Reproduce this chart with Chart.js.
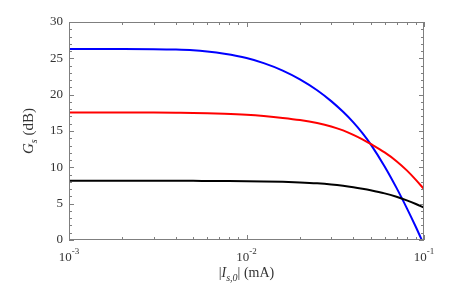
<!DOCTYPE html>
<html>
<head>
<meta charset="utf-8">
<script src="https://cdn.jsdelivr.net/npm/chart.js@4.4.1/dist/chart.umd.min.js"></script>
<style>
  html, body { margin: 0; padding: 0; background: #fff; }
  canvas { display: block; }
</style>
</head>
<body>
<canvas id="gainChart" width="469" height="293"></canvas>
<script>
// bias current |I_s,0| in mA (log axis)
const currents = [0.001, 0.002, 0.003, 0.004, 0.005, 0.006, 0.0075, 0.01, 0.0125, 0.016, 0.02, 0.025, 0.03, 0.035, 0.04, 0.045, 0.05, 0.06, 0.07, 0.08, 0.09, 0.1];
// gain G_s in dB
const gainBlue  = [26.3, 26.29, 26.26, 26.2, 26.1, 25.93, 25.62, 25.04, 24.34, 23.32, 22.11, 20.61, 19.11, 17.64, 16.19, 14.71, 13.2, 10.12, 7.17, 4.39, 1.79, -0.69];
const gainRed   = [17.55, 17.54, 17.53, 17.51, 17.49, 17.45, 17.37, 17.22, 17.05, 16.8, 16.51, 16.1, 15.63, 15.08, 14.47, 13.85, 13.22, 12.05, 10.85, 9.58, 8.28, 7.0];
const gainBlack = [8.15, 8.15, 8.15, 8.14, 8.14, 8.13, 8.12, 8.1, 8.06, 8.0, 7.92, 7.8, 7.65, 7.47, 7.27, 7.06, 6.85, 6.42, 5.95, 5.46, 4.96, 4.45];

const yTicks = [0, 5, 10, 15, 20, 25, 30];
const xTicks = [0.001, 0.01, 0.1];
const xTickExp = ['-3', '-2', '-1'];

const serif = '"Liberation Serif", "Times New Roman", serif';
const textColor = '#333';

function toPoints(ys) {
    return currents.map((x, i) => ({ x: x, y: ys[i] }));
}

function series(ys, color) {
    return {
        data: toPoints(ys),
        borderColor: color,
        backgroundColor: color,
        borderWidth: 2,
        pointRadius: 0,
        showLine: true,
        cubicInterpolationMode: 'monotone',
        fill: false
    };
}

// frame, inward ticks, labels and axis titles
const framePlugin = {
    id: 'frame',
    afterDraw(chart) {
        const ctx = chart.ctx;
        const a = chart.chartArea;
        const xs = chart.scales.x;
        const ys = chart.scales.y;
        ctx.save();
        ctx.strokeStyle = '#7f7f7f';
        ctx.lineWidth = 1;
        ctx.strokeRect(a.left + 0.5, a.top + 0.5, a.right - a.left - 1, a.bottom - a.top - 1);

        ctx.beginPath();
        for (let v = 0; v <= 30; v++) {
            const py = Math.round(ys.getPixelForValue(v)) + 0.5;
            const len = v % 5 === 0 ? 5 : 3;
            ctx.moveTo(a.left, py); ctx.lineTo(a.left + len, py);
            ctx.moveTo(a.right, py); ctx.lineTo(a.right - len, py);
        }
        for (let d = -3; d <= -1; d++) {
            for (let m = 1; m <= 9; m++) {
                const val = m * Math.pow(10, d);
                if (val > 0.1 + 1e-9) break;
                const px = Math.round(xs.getPixelForValue(val)) + 0.5;
                const len = m === 1 ? 5 : 3;
                ctx.moveTo(px, a.bottom); ctx.lineTo(px, a.bottom - len);
                ctx.moveTo(px, a.top); ctx.lineTo(px, a.top + len);
            }
        }
        const lastPx = Math.round(xs.getPixelForValue(0.1)) + 0.5;
        ctx.moveTo(lastPx, a.bottom); ctx.lineTo(lastPx, a.bottom - 5);
        ctx.moveTo(lastPx, a.top); ctx.lineTo(lastPx, a.top + 5);
        ctx.stroke();

        ctx.fillStyle = textColor;
        // y tick labels
        ctx.font = '13px ' + serif;
        ctx.textAlign = 'right';
        ctx.textBaseline = 'middle';
        yTicks.forEach(v => {
            ctx.fillText(String(v), a.left - 6, ys.getPixelForValue(v));
        });

        // x tick labels 10^n
        xTicks.forEach((v, i) => {
            ctx.font = '13px ' + serif;
            const w1 = ctx.measureText('10').width;
            ctx.font = '9px ' + serif;
            const w2 = ctx.measureText(xTickExp[i]).width;
            const px = xs.getPixelForValue(v);
            const x0 = px - (w1 + w2) / 2;
            ctx.textAlign = 'left';
            ctx.textBaseline = 'alphabetic';
            ctx.font = '13px ' + serif;
            ctx.fillText('10', x0, a.bottom + 21);
            ctx.font = '9px ' + serif;
            ctx.fillText(xTickExp[i], x0 + w1, a.bottom + 14);
        });

        // x title: |I_s,0| (mA)
        const parts = [
            { t: '|', f: '14px ' + serif, dy: 0 },
            { t: 'I', f: 'italic 14px ' + serif, dy: 0 },
            { t: 's,0', f: 'italic 10px ' + serif, dy: 4 },
            { t: '| (mA)', f: '14px ' + serif, dy: 0 }
        ];
        let total = 0;
        parts.forEach(p => { ctx.font = p.f; p.w = ctx.measureText(p.t).width; total += p.w; });
        let cx = (a.left + a.right) / 2 - total / 2;
        ctx.textAlign = 'left';
        parts.forEach(p => {
            ctx.font = p.f;
            ctx.fillText(p.t, cx, a.bottom + 37 + p.dy);
            cx += p.w;
        });

        // y title: G_s (dB)
        const yparts = [
            { t: 'G', f: 'italic 15px ' + serif, dy: 0 },
            { t: 's', f: 'italic 10px ' + serif, dy: 4 },
            { t: ' (dB)', f: '15px ' + serif, dy: 0 }
        ];
        let ytotal = 0;
        yparts.forEach(p => { ctx.font = p.f; p.w = ctx.measureText(p.t).width; ytotal += p.w; });
        ctx.translate(33, (a.top + a.bottom) / 2);
        ctx.rotate(-Math.PI / 2);
        let cy = -ytotal / 2;
        yparts.forEach(p => {
            ctx.font = p.f;
            ctx.fillText(p.t, cy, p.dy);
            cy += p.w;
        });
        ctx.restore();
    }
};

new Chart(document.getElementById('gainChart').getContext('2d'), {
    type: 'scatter',
    data: {
        datasets: [
            series(gainBlack, '#000000'),
            series(gainRed, '#ff0000'),
            series(gainBlue, '#0000ff')
        ]
    },
    options: {
        responsive: false,
        animation: false,
        layout: { padding: { left: 61, right: 45, top: 22, bottom: 45 } },
        plugins: {
            legend: { display: false },
            tooltip: { enabled: false }
        },
        scales: {
            x: {
                type: 'logarithmic',
                min: 0.001,
                max: 0.1,
                ticks: { display: false },
                grid: { display: false },
                border: { display: false }
            },
            y: {
                type: 'linear',
                min: 0,
                max: 30,
                ticks: { display: false },
                grid: { display: false },
                border: { display: false }
            }
        }
    },
    plugins: [framePlugin]
});
</script>
</body>
</html>
